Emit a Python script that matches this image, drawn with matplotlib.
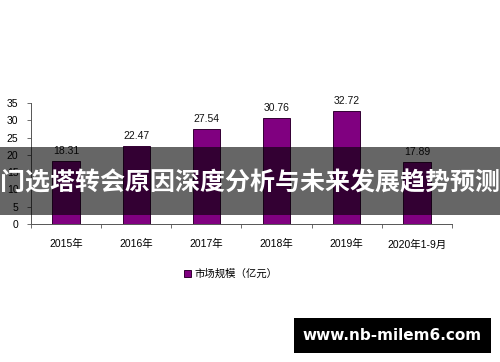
import matplotlib.pyplot as plt
from matplotlib.patches import Rectangle

years = ["2015年", "2016年", "2017年", "2018年", "2019年", "2020年1-9月"]
market_size = [18.31, 22.47, 27.54, 30.76, 32.72, 17.89]
series_name = "市场规模（亿元）"
banner_title = "门选塔转会原因深度分析与未来发展趋势预测"
site = "www.nb-milem6.com"

plt.rcParams['font.family'] = ['Liberation Sans', 'Noto Sans CJK SC', 'DejaVu Sans']

fig = plt.figure(figsize=(5, 3.62), dpi=100)
ax = fig.add_axes([0.062, 0.381, 0.842, 0.3345])

x = list(range(len(years)))
bars = ax.bar(x, market_size, width=0.39, color="#800080", edgecolor="#330033",
              linewidth=0.7, label=series_name)
for xi, v in zip(x, market_size):
    ax.text(xi, v + 1.4, f"{v:.2f}", ha="center", va="bottom", fontsize=7.5, color="#111111")

ax.set_xlim(-0.5, len(years) - 0.5)
ax.set_ylim(0, 35)
ax.set_yticks(range(0, 36, 5))
ax.tick_params(axis="y", labelsize=7.5, length=3, width=0.6, color="#555555", pad=6)
ax.set_xticks(x)
ax.set_xticklabels(years)
ax.tick_params(axis="x", which="major", length=0, labelsize=7.5, pad=11)
ax.set_xticks([i - 0.5 for i in range(len(years) + 1)], minor=True)
ax.tick_params(axis="x", which="minor", length=3, width=0.6, color="#555555")
for s in ["top", "right"]:
    ax.spines[s].set_visible(False)
for s in ["left", "bottom"]:
    ax.spines[s].set_color("#555555")
    ax.spines[s].set_linewidth(0.7)

fig.legend(handles=[bars], labels=[series_name], loc="center left",
           bbox_to_anchor=(0.35, 0.243), frameon=False, fontsize=7.5,
           handlelength=0.6, handleheight=0.6, handletextpad=0.4)

# dark banner over the chart
fig.patches.append(Rectangle((0, 0.406), 1, 0.188, transform=fig.transFigure,
                             facecolor="black", alpha=0.6, zorder=10))
fig.text(0.5, 0.4945, banner_title, ha="center", va="center", color="white",
         fontsize=18, fontweight="bold", family=['Noto Sans CJK SC', 'DejaVu Sans'],
         zorder=11)

# site box at the bottom right
fig.patches.append(Rectangle((0.588, 0.025), 0.394, 0.097, transform=fig.transFigure,
                             facecolor="black", zorder=10))
fig.text(0.785, 0.0735, site, ha="center", va="center", color="white",
         fontsize=11, fontweight="bold", family=['DejaVu Sans'], zorder=11)

fig.savefig("out.png", dpi=100)
